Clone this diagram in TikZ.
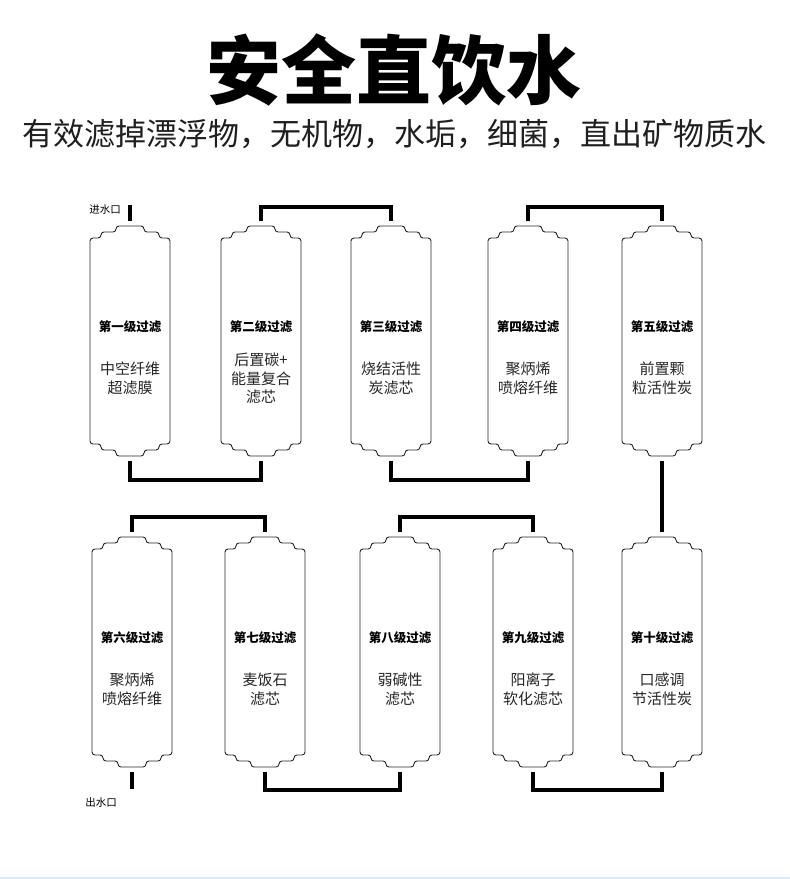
\documentclass[tikz,border=0pt]{standalone}
\usepackage{fontspec}
\newfontfamily\cjk{Noto Sans CJK SC}
\definecolor{edgeblue}{HTML}{DCE9F6}
\begin{document}
\begin{tikzpicture}[x=1pt,y=-1pt,
  pipe/.style={line width=4pt, line cap=butt, line join=miter},
  cartbox/.style={draw=none, minimum width=80pt, minimum height=240pt, inner sep=0pt, outer sep=0pt},
  cartline/.style={line width=0.9pt, draw=black!85, rounded corners=3pt},
  lvl/.style={font=\cjk\bfseries\fontsize{12.5}{14}\selectfont, inner sep=0pt},
  desc/.style={font=\cjk\fontsize{15}{18.5}\selectfont, align=center, text=black!85, inner sep=0pt},
  port/.style={font=\cjk\fontsize{10.5}{12}\selectfont, inner sep=0pt},
]
\newcommand\filtercart[5]{%
  \node[cartbox] (#1) at (#2,#3) {};
  \begin{scope}[shift={(#1.center)}]
    \draw[cartline] (-40,0) -- (-40,-103) -- (-29,-103) -- (-29,-109) -- (-14,-109) -- (-14,-115) -- (14,-115) -- (14,-109) -- (29,-109) -- (29,-103) -- (40,-103) -- (40,103) -- (29,103) -- (29,109) -- (14,109) -- (14,115) -- (-14,115) -- (-14,109) -- (-29,109) -- (-29,103) -- (-40,103) -- cycle;
  \end{scope}
  \node[lvl] (#1a) at (#2,#3) [yshift=14pt] {#4};
  \node[desc] (#1b) at (#2,#3) [yshift=-37.5pt] {#5};
}
\fill[white] (0,0) rectangle (790,879);
\useasboundingbox (0,0) rectangle (790,879);
\fill[edgeblue] (0,876.5) rectangle (790,879);

\node[font=\cjk\bfseries\fontsize{75}{80}\selectfont, inner sep=0pt] (title) at (394,70) {安全直饮水};
\node[font=\cjk\fontsize{31}{34}\selectfont, text=black!88, inner sep=0pt] (sub) at (395,134) {有效滤掉漂浮物，无机物，水垢，细菌，直出矿物质水};

\filtercart{c1}{130}{341}{第一级过滤}{中空纤维\\超滤膜}
\filtercart{c2}{261}{341}{第二级过滤}{后置碳+\\能量复合\\滤芯}
\filtercart{c3}{391}{341}{第三级过滤}{烧结活性\\炭滤芯}
\filtercart{c4}{528}{341}{第四级过滤}{聚炳烯\\喷熔纤维}
\filtercart{c5}{662}{341}{第五级过滤}{前置颗\\粒活性炭}
\filtercart{c6}{132}{652}{第六级过滤}{聚炳烯\\喷熔纤维}
\filtercart{c7}{265}{652}{第七级过滤}{麦饭石\\滤芯}
\filtercart{c8}{400}{652}{第八级过滤}{弱碱性\\滤芯}
\filtercart{c9}{533}{652}{第九级过滤}{阳离子\\软化滤芯}
\filtercart{c10}{662}{652}{第十级过滤}{口感调\\节活性炭}

\coordinate (inlet) at (130,205);
\coordinate (outlet) at (132,789);
\node[port] (inlab) at (105,210) {进水口};
\node[port] (outlab) at (101,803) {出水口};

\draw[pipe] (inlet) -- (c1.north);
\draw[pipe] (c1.south) -- ++(0,19) -| (c2.south);
\draw[pipe] (c2.north) -- ++(0,-14) -| (c3.north);
\draw[pipe] (c3.south) -- ++(0,19) -| (c4.south);
\draw[pipe] (c4.north) -- ++(0,-14) -| (c5.north);
\draw[pipe] (c5.south) -- (c10.north);
\draw[pipe] (c10.south) -- ++(0,18) -| (c9.south);
\draw[pipe] (c9.north) -- ++(0,-15) -| (c8.north);
\draw[pipe] (c8.south) -- ++(0,18) -| (c7.south);
\draw[pipe] (c7.north) -- ++(0,-15) -| (c6.north);
\draw[pipe] (c6.south) -- (outlet);
\end{tikzpicture}
\end{document}
